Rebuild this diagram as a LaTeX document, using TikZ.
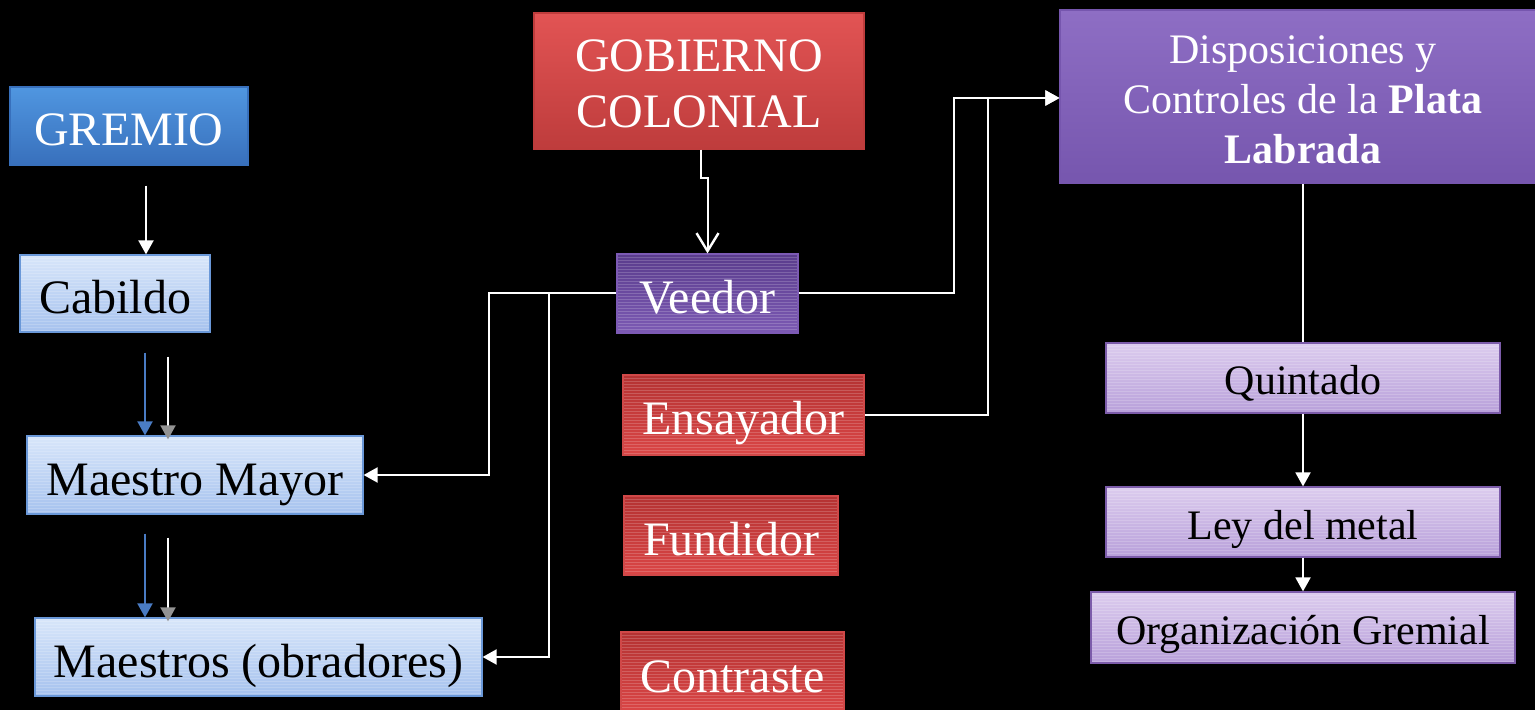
\documentclass[tikz,border=0pt]{standalone}
\usepackage{fontspec}
\setmainfont{Liberation Serif}
\usetikzlibrary{arrows.meta,calc}
\definecolor{gblue1}{HTML}{5096E0}
\definecolor{gblue2}{HTML}{3870BC}
\definecolor{lblue1}{HTML}{D8E6FA}
\definecolor{lblue2}{HTML}{A6C2EE}
\definecolor{lblueb}{HTML}{6A98D8}
\definecolor{red1}{HTML}{E25454}
\definecolor{red2}{HTML}{BE3C3C}
\definecolor{dred1}{HTML}{B43232}
\definecolor{dred2}{HTML}{DA4646}
\definecolor{redb}{HTML}{D04848}
\definecolor{vio1}{HTML}{5A3C8C}
\definecolor{vio2}{HTML}{7C5AB4}
\definecolor{pur1}{HTML}{8E6EC4}
\definecolor{pur2}{HTML}{7656AE}
\definecolor{lpur1}{HTML}{DCCCEE}
\definecolor{lpur2}{HTML}{B8A0DA}
\definecolor{lpurb}{HTML}{7C5CAA}
\definecolor{arrblue}{HTML}{4A7CC4}
\tikzset{
  box/.style={rectangle, inner sep=0pt, align=center, line width=0.6pt},
  stripes/.style={path picture={
    \foreach \k in {0,...,60}
      \draw[white,opacity=0.18,line width=0.35pt]
        ([yshift=-\k*1.5pt]path picture bounding box.north west) --
        ([yshift=-\k*1.5pt]path picture bounding box.north east);}},
  bigfont/.style={font=\fontsize{24}{28}\selectfont},
  smallfont/.style={font=\fontsize{21}{25}\selectfont},
  bigline/.style={text height=20pt, text depth=0pt},
  smallline/.style={text height=17pt, text depth=0pt},
  bluebox/.style={box, bigfont, bigline, text=white, top color=gblue1, bottom color=gblue2, draw=gblue2},
  lbluebox/.style={box, bigfont, bigline, text=black, top color=lblue1, bottom color=lblue2, draw=lblueb, stripes},
  redbox/.style={box, bigfont, text=white, top color=red1, bottom color=red2, draw=red2},
  dredbox/.style={box, bigfont, bigline, text=white, top color=dred1, bottom color=dred2, draw=redb, stripes},
  viobox/.style={box, bigfont, bigline, text=white, top color=vio1, bottom color=vio2, draw=vio2, stripes},
  purbox/.style={box, smallfont, text=white, top color=pur1, bottom color=pur2, draw=pur2},
  lpurbox/.style={box, smallfont, smallline, text=black, top color=lpur1, bottom color=lpur2, draw=lpurb, stripes},
  conn/.style={white, line width=1pt},
  arr/.style={conn, -{Triangle[width=7.5pt,length=7pt]}},
  blarr/.style={arrblue, line width=1pt, -{Triangle[width=7.5pt,length=7pt]}},
  grarr/.style={white, line width=1pt, -{Triangle[width=7.5pt,length=7pt,color=gray!85]}},
  openarr/.style={conn, -{Straight Barb[width=11pt,length=9pt,line width=1.2pt]}}
}
\begin{document}
\begin{tikzpicture}[x=0.5pt,y=-0.5pt]
\fill[black] (0,0) rectangle (1535,710);
\useasboundingbox (0,0) rectangle (1535,710);
\begin{scope}
\clip (0,0) rectangle (1535,710);
% left column
\node[bluebox, minimum width=119pt, minimum height=39pt] (gremio) at (129,126) {GREMIO};
\node[lbluebox, minimum width=95pt, minimum height=38.5pt] (cab) at (115,293.5) {Cabildo};
\node[lbluebox, minimum width=168pt, minimum height=39pt] (mm) at (195,475) {Maestro Mayor};
\node[lbluebox, minimum width=223.5pt, minimum height=39pt] (mo) at (258.5,657) {Maestros (obradores)};
% middle column
\node[redbox, minimum width=165pt, minimum height=68pt] (gob) at (699,81) {\rule{0pt}{19pt}GOBIERNO\\COLONIAL};
\node[viobox, minimum width=90.5pt, minimum height=39.5pt] (veedor) at (707.5,293.5) {Veedor};
\node[dredbox, minimum width=120.5pt, minimum height=40pt] (ens) at (743.5,415) {Ensayador};
\node[dredbox, minimum width=107pt, minimum height=39.5pt] (fun) at (731,535.5) {Fundidor};
\node[dredbox, minimum width=111.5pt, minimum height=40pt] (con) at (732.5,672) {Contraste};
% right column
\node[purbox, minimum width=243pt, minimum height=86.5pt] (disp) at (1303,96.5) {\rule{0pt}{17.5pt}Disposiciones y\\Controles de la \textbf{Plata}\\\textbf{Labrada}};
\node[lpurbox, minimum width=197pt, minimum height=35pt] (quin) at (1303,378) {Quintado};
\node[lpurbox, minimum width=197pt, minimum height=35pt] (ley) at (1303,522) {Ley del metal};
\node[lpurbox, minimum width=212pt, minimum height=35.5pt] (org) at (1303,627.5) {Organización Gremial};
\end{scope}
% connectors left
\draw[arr] ([xshift=8.5pt,yshift=-10pt]gremio.south) -- ([xshift=15.5pt]cab.north);
\draw[blarr] ([xshift=15pt,yshift=-10pt]cab.south) -- ([xshift=-25pt]mm.north);
\draw[grarr] ([xshift=26.5pt,yshift=-12pt]cab.south) -- ([xshift=-13.5pt,yshift=-2pt]mm.north);
\draw[blarr] ([xshift=-25pt,yshift=-9.5pt]mm.south) -- ([xshift=-56.75pt]mo.north);
\draw[grarr] ([xshift=-13.5pt,yshift=-11.5pt]mm.south) -- ([xshift=-45.25pt,yshift=-2pt]mo.north);
% middle connectors
\draw[openarr] ([xshift=1pt]gob.south) -- ++(0,28) -| (veedor.north);
\draw[arr] (veedor.west) -- ++(-127,0) |- (mm.east);
\draw[arr] ($(veedor.west)+(-67,0)$) |- (mo.east);
\draw[arr] (veedor.east) -- ++(155,0) |- ([yshift=-0.75pt]disp.west);
\draw[arr] (ens.east) -- ++(123,0) |- ([yshift=-0.75pt]disp.west);
% right connectors
\draw[conn] (disp.south) -- (quin.north);
\draw[arr] (quin.south) -- (ley.north);
\draw[arr] (ley.south) -- (org.north);
\end{tikzpicture}
\end{document}
